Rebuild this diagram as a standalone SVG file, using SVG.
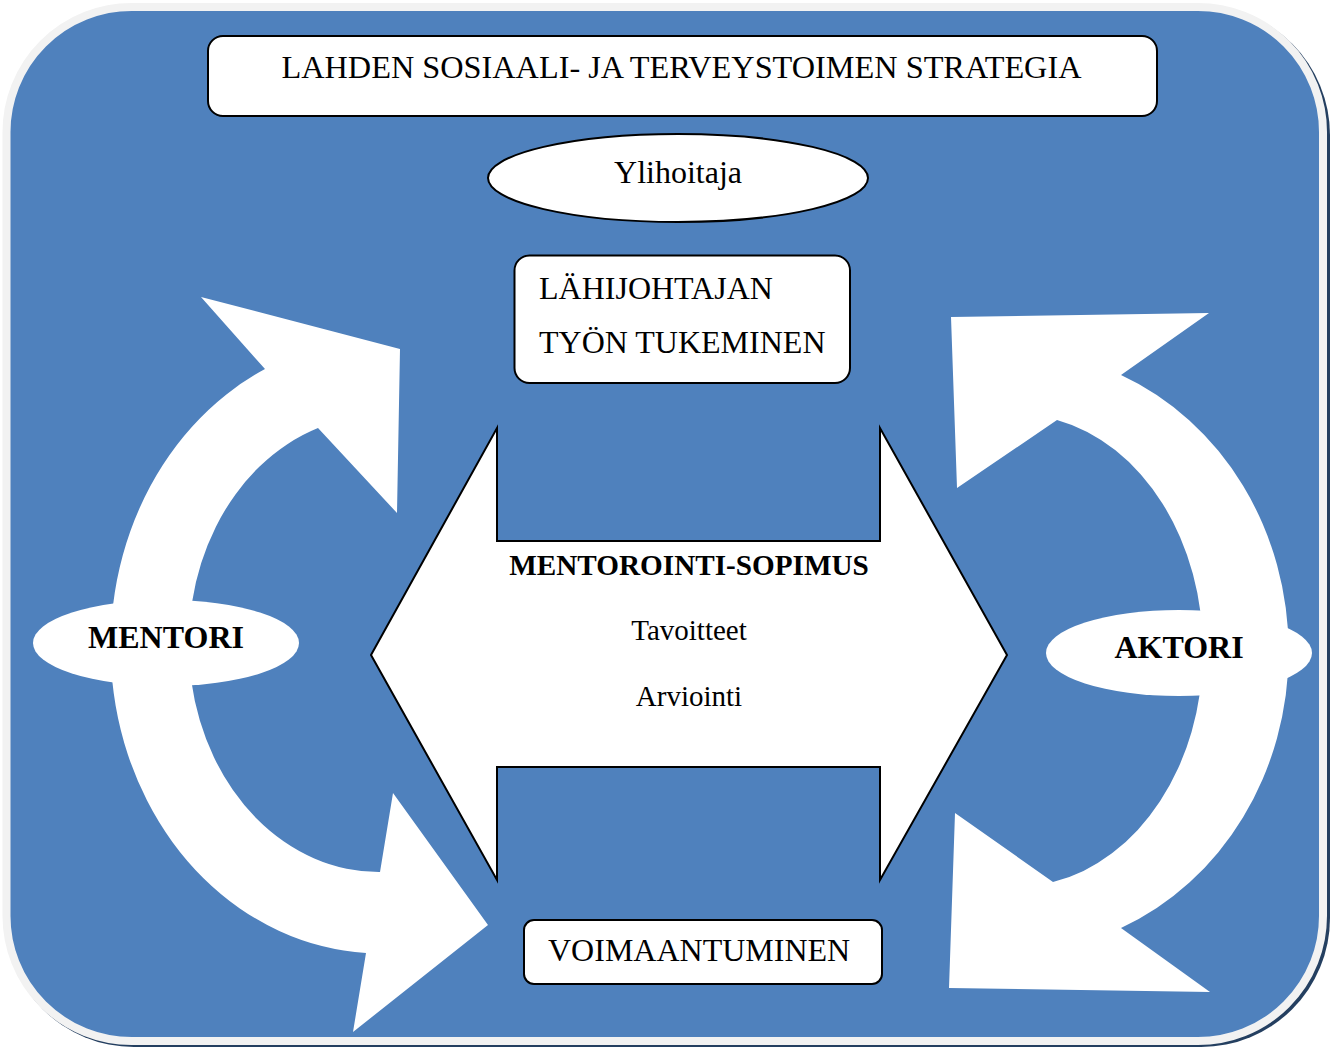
<svg xmlns="http://www.w3.org/2000/svg" width="1335" height="1048" viewBox="0 0 1335 1048">
  <style>
    .box { fill: #ffffff; stroke: #000000; stroke-width: 2; }
    .band { fill: #ffffff; stroke: none; }
    .lbl { font-family: "Liberation Serif", "Times New Roman", serif; fill: #000000; }
    .big { font-size: 32px; }
    .mid { font-size: 29px; }
    .bold { font-weight: bold; }
  </style>

  <!-- panel: shadow, then rounded blue panel with light rim -->
  <g id="panel">
    <rect x="5" y="6" width="1325" height="1041" rx="129" ry="129" fill="#243f60"/>
    <rect x="6.5" y="7" width="1316.5" height="1034" rx="125" ry="125" fill="#4f81bd" stroke="#f2f2f2" stroke-width="8"/>
  </g>

  <!-- curved cycle arrows -->
  <g id="connectors">
    <path id="cycle-left" class="band" d="M265,369 A270,307 0 0 0 366,953 L353,1032 L488,925 L393,793 L380,872 A190,228 0 0 1 318,428 L397,513 L400,349 L201,297 Z"/>
    <path id="cycle-right" class="band" d="M951,317 L1209,313 L1121,375 A274,300 0 0 1 1121,928 L1210,992 L949,988 L955,813 L1053,882 A186,236 0 0 0 1057,420 L957,488 Z"/>
  </g>

  <!-- central double-headed arrow -->
  <g id="agreement">
    <polygon class="box" points="371,655 497,428 497,541 880,541 880,428 1007,655 880,880 880,767 497,767 497,880"/>
    <text class="lbl bold" x="689" y="575" font-size="29.2" text-anchor="middle">MENTOROINTI-SOPIMUS</text>
    <text class="lbl mid" x="689" y="640" text-anchor="middle">Tavoitteet</text>
    <text class="lbl mid" x="689" y="706" text-anchor="middle">Arviointi</text>
  </g>

  <g id="strategy">
    <rect class="box" x="208" y="36" width="949" height="80" rx="15" ry="15"/>
    <text class="lbl" x="681.5" y="78" font-size="32.3" text-anchor="middle">LAHDEN SOSIAALI- JA TERVEYSTOIMEN STRATEGIA</text>
  </g>

  <g id="ylihoitaja">
    <ellipse class="box" cx="678" cy="178" rx="190" ry="44"/>
    <text class="lbl big" x="678" y="183" text-anchor="middle">Ylihoitaja</text>
  </g>

  <g id="lahijohtaja">
    <rect class="box" x="514.5" y="255.5" width="335.5" height="127.5" rx="15" ry="15"/>
    <text class="lbl big" x="539" y="299">LÄHIJOHTAJAN</text>
    <text class="lbl big" x="539" y="353">TYÖN TUKEMINEN</text>
  </g>

  <g id="voimaantuminen">
    <rect class="box" x="524" y="920" width="358" height="64" rx="10" ry="10"/>
    <text class="lbl big" x="548" y="961">VOIMAANTUMINEN</text>
  </g>

  <g id="mentori">
    <ellipse cx="166" cy="643" rx="133" ry="43" fill="#ffffff"/>
    <text class="lbl big bold" x="166" y="648" text-anchor="middle">MENTORI</text>
  </g>

  <g id="aktori">
    <ellipse cx="1179" cy="653" rx="133" ry="43" fill="#ffffff"/>
    <text class="lbl big bold" x="1179" y="658" text-anchor="middle">AKTORI</text>
  </g>
</svg>
